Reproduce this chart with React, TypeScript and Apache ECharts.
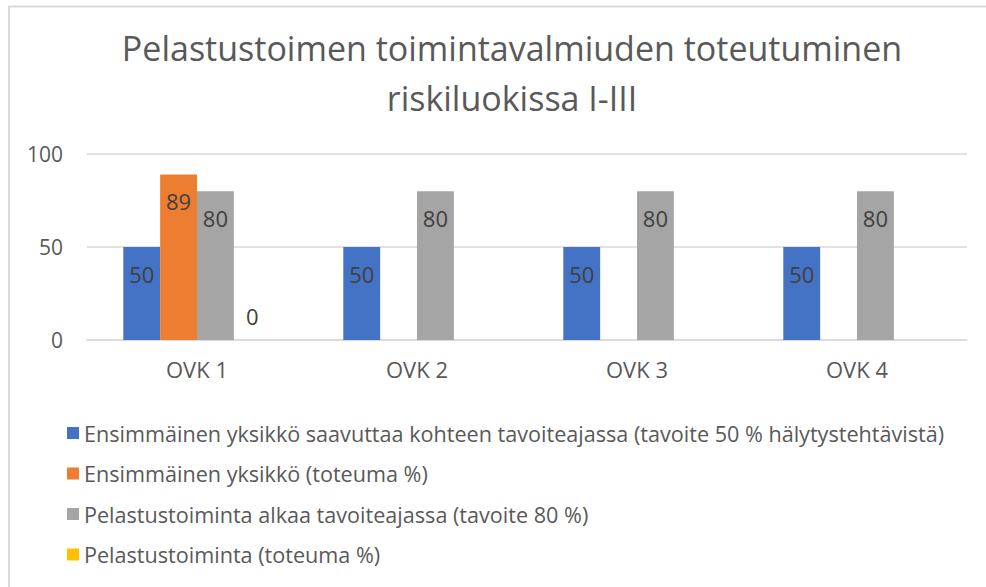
import React, { useEffect, useRef } from "react";
import * as echarts from "echarts";

const titleLines = ["Pelastustoimen toimintavalmiuden toteutuminen", "riskiluokissa I-III"];
const categories = ["OVK 1", "OVK 2", "OVK 3", "OVK 4"];
const seriesNames = [
  "Ensimmäinen yksikkö saavuttaa kohteen tavoiteajassa (tavoite 50 % hälytystehtävistä)",
  "Ensimmäinen yksikkö (toteuma %)",
  "Pelastustoiminta alkaa tavoiteajassa (tavoite 80 %)",
  "Pelastustoiminta (toteuma %)",
];
const targetFirstUnit = [50, 50, 50, 50];
const actualFirstUnit = [89, null, null, null];
const targetRescue = [80, 80, 80, 80];
const actualRescue = [0, null, null, null];
const seriesColors = ["#4472C4", "#ED7D31", "#A5A5A5", "#FFC000"];
const yTicks = { min: 0, max: 100, interval: 50 };

const FONT = "'Open Sans', 'Noto Sans', sans-serif";

export default function App() {
  const ref = useRef<HTMLDivElement>(null);
  useEffect(() => {
    if (!ref.current) return;
    const chart = echarts.init(ref.current, null, { renderer: "svg" });
    const allData = [targetFirstUnit, actualFirstUnit, targetRescue, actualRescue];
    const series = allData.map((vals, i) => ({
      name: seriesNames[i],
      type: "bar",
      barGap: "0%",
      barCategoryGap: "33%",
      itemStyle: { color: seriesColors[i] },
      label: {
        show: true,
        position: "insideTop",
        distance: 16,
        fontSize: 22,
        lineHeight: 22,
        color: "#404040",
        fontFamily: FONT,
      },
      data: vals.map((v) =>
        v === 0 ? { value: v, label: { position: "top", distance: 13 } } : v
      ),
    }));
    chart.setOption({
      animation: false,
      backgroundColor: "#ffffff",
      title: {
        text: titleLines.join("\n"),
        left: 507,
        top: 18,
        textAlign: "center",
        textStyle: {
          fontFamily: FONT,
          fontWeight: "normal",
          fontSize: 34,
          lineHeight: 50,
          color: "#595959",
        },
      },
      graphic: [
        {
          type: "rect",
          shape: { x: 9, y: 6.5, width: 1100, height: 700 },
          style: { fill: "none", stroke: "#D9D9D9", lineWidth: 2 },
          silent: true,
        },
      ],
      legend: {
        orient: "vertical",
        left: 62,
        top: 417,
        icon: "rect",
        itemWidth: 12,
        itemHeight: 12,
        itemGap: 18.5,
        textStyle: {
          fontFamily: FONT,
          fontSize: 21.6,
          lineHeight: 22,
          color: "#595959",
        },
        data: seriesNames,
      },
      grid: { left: 87, right: 19, top: 154, bottom: 247, containLabel: false },
      xAxis: {
        type: "category",
        data: categories,
        axisLine: { lineStyle: { color: "#D9D9D9", width: 1.5 } },
        axisTick: { show: false },
        axisLabel: {
          fontFamily: FONT,
          fontSize: 22,
          lineHeight: 22,
          color: "#595959",
          margin: 18,
        },
      },
      yAxis: {
        type: "value",
        min: yTicks.min,
        max: yTicks.max,
        interval: yTicks.interval,
        axisLine: { show: false },
        axisTick: { show: false },
        splitLine: { lineStyle: { color: "#D9D9D9", width: 1.5 } },
        axisLabel: {
          fontFamily: FONT,
          fontSize: 21,
          color: "#595959",
          margin: 24,
        },
      },
      series,
    });
    return () => chart.dispose();
  }, []);
  return (
    <div
      ref={ref}
      style={{ position: "absolute", left: 0, top: 0, width: 986, height: 587 }}
    />
  );
}
